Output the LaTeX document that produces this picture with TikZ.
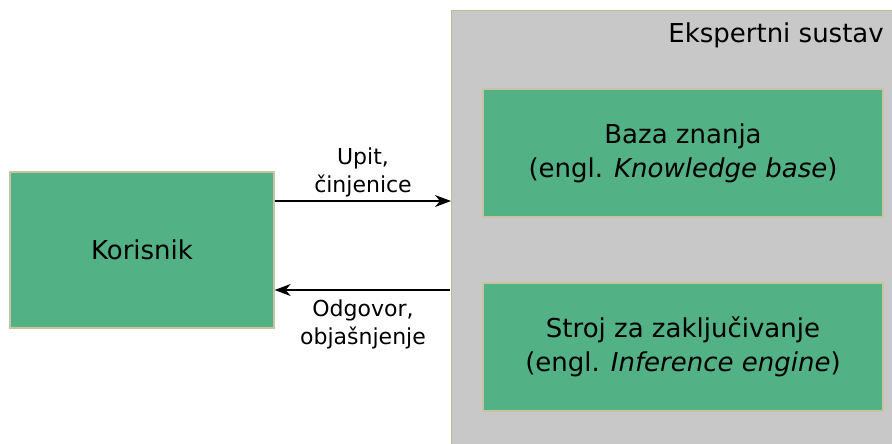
\documentclass[tikz,border=0pt]{standalone}
\usepackage{fontspec}
\setmainfont{DejaVu Sans}
\usetikzlibrary{arrows.meta}

\definecolor{boxgreen}{HTML}{52B286}
\definecolor{greenedge}{HTML}{C8C4A2}
\definecolor{sysgray}{HTML}{C8C8C8}
\definecolor{sysedge}{HTML}{BCBC94}

\tikzset{
  component/.style={draw=greenedge, line width=1.3pt, fill=boxgreen,
    align=center, inner sep=0pt, font=\fontsize{26}{34}\selectfont},
  system/.style={draw=sysedge, line width=1.3pt, fill=sysgray, inner sep=0pt},
  flow/.style={line width=1.5pt, -{Stealth[length=16pt,width=12pt,inset=5pt]}},
  flowlabel/.style={align=center, inner sep=0pt, font=\fontsize{22}{28}\selectfont}
}

\begin{document}
\begin{tikzpicture}[x=1pt,y=-1pt]
  \useasboundingbox (0,0) rectangle (892,444);

  % expert system container, running past the right and bottom edges
  \node[system, anchor=north west, minimum width=460pt, minimum height=450pt]
    (sustav) at (451,10) {};
  \node[anchor=base east, inner sep=0pt, font=\fontsize{26}{34}\selectfont]
    (naslov) at (884,43) {Ekspertni sustav};

  % components
  \node[component, minimum width=264pt, minimum height=156pt]
    (korisnik) at (142,250) {Korisnik};
  \node[component, minimum width=400pt, minimum height=128pt]
    (baza) at (683,153) {Baza znanja\\(engl. \textit{Knowledge base})};
  \node[component, minimum width=400pt, minimum height=128pt]
    (stroj) at (683,347) {Stroj za zaključivanje\\(engl. \textit{Inference engine})};

  % query and answer connectors
  \coordinate (upitY) at (0,201);
  \coordinate (odgY) at (0,290);
  \draw[flow] (korisnik.east |- upitY) -- (sustav.west |- upitY);
  \draw[flow] ([xshift=-1pt]sustav.west |- odgY) -- (korisnik.east |- odgY);

  \node[flowlabel, anchor=south] (upit) at (363,197) {Upit,\\činjenice};
  \node[flowlabel, anchor=north] (odgovor) at (363,300) {Odgovor,\\objašnjenje};
\end{tikzpicture}
\end{document}
